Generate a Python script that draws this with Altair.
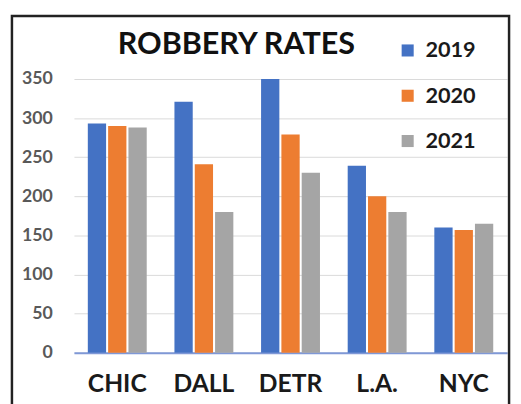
import altair as alt
import pandas as pd

cities = ["CHIC", "DALL", "DETR", "L.A.", "NYC"]
years = ["2019", "2020", "2021"]
r2019 = [293, 321, 350, 239, 160]
r2020 = [290, 241, 279, 200, 157]
r2021 = [288, 180, 230, 180, 165]
y_ticks = [0, 50, 100, 150, 200, 250, 300, 350]
colors = ["#4472C4", "#ED7D31", "#A5A5A5"]
title_text = "ROBBERY RATES"

rows = []
for i, c in enumerate(cities):
    for yr, vals in zip(years, [r2019, r2020, r2021]):
        rows.append({"city": c, "year": yr, "rate": vals[i]})
df = pd.DataFrame(rows)

FONT = "Lato"

bars = alt.Chart(df).mark_bar().encode(
    x=alt.X("city:N", sort=cities,
            scale=alt.Scale(paddingInner=0.32, paddingOuter=0.16),
            axis=alt.Axis(title=None, labelAngle=0, labelFont=FONT, labelFontSize=25,
                          labelFontWeight="bold", labelColor="#1a1a1a", labelPadding=19,
                          ticks=False, domainColor="#7f98d6", domainWidth=2, grid=False)),
    xOffset=alt.XOffset("year:N", sort=years, scale=alt.Scale(paddingInner=0.1)),
    y=alt.Y("rate:Q", scale=alt.Scale(domain=[0, 350], nice=False),
            axis=alt.Axis(title=None, values=y_ticks, domain=False, ticks=False,
                          labelFont=FONT, labelFontSize=18, labelFontWeight="bold",
                          labelColor="#595959", labelPadding=22, gridColor="#d9d9d9")),
    color=alt.Color("year:N", sort=years, scale=alt.Scale(domain=years, range=colors),
                    legend=alt.Legend(title=None, orient="none", legendX=328, legendY=-40,
                                      symbolType="square", symbolSize=150,
                                      labelFontSize=22, labelFont=FONT, labelFontWeight="bold",
                                      labelColor="#1a1a1a", rowPadding=24,
                                      symbolStrokeWidth=0, labelOffset=7)),
)

frame = alt.Chart(pd.DataFrame({"a": [0]})).mark_rect(
    fillOpacity=0, stroke="#222222", strokeWidth=2.5, clip=False
).encode(x=alt.value(-63), x2=alt.value(442), y=alt.value(-64), y2=alt.value(345))

title = alt.Chart(pd.DataFrame({"t": [title_text]})).mark_text(
    font=FONT, fontSize=31, fontWeight="bold", align="center", baseline="alphabetic",
    color="#111111"
).encode(text="t:N", x=alt.value(165), y=alt.value(-25))

chart = alt.layer(frame, bars, title).properties(
    width=440, height=278,
    padding={"left": 67, "top": 69, "right": 6, "bottom": 49},
    autosize="none",
).configure_view(strokeWidth=0)

chart.save("out.html", embed_options={"renderer": "svg", "actions": False})
